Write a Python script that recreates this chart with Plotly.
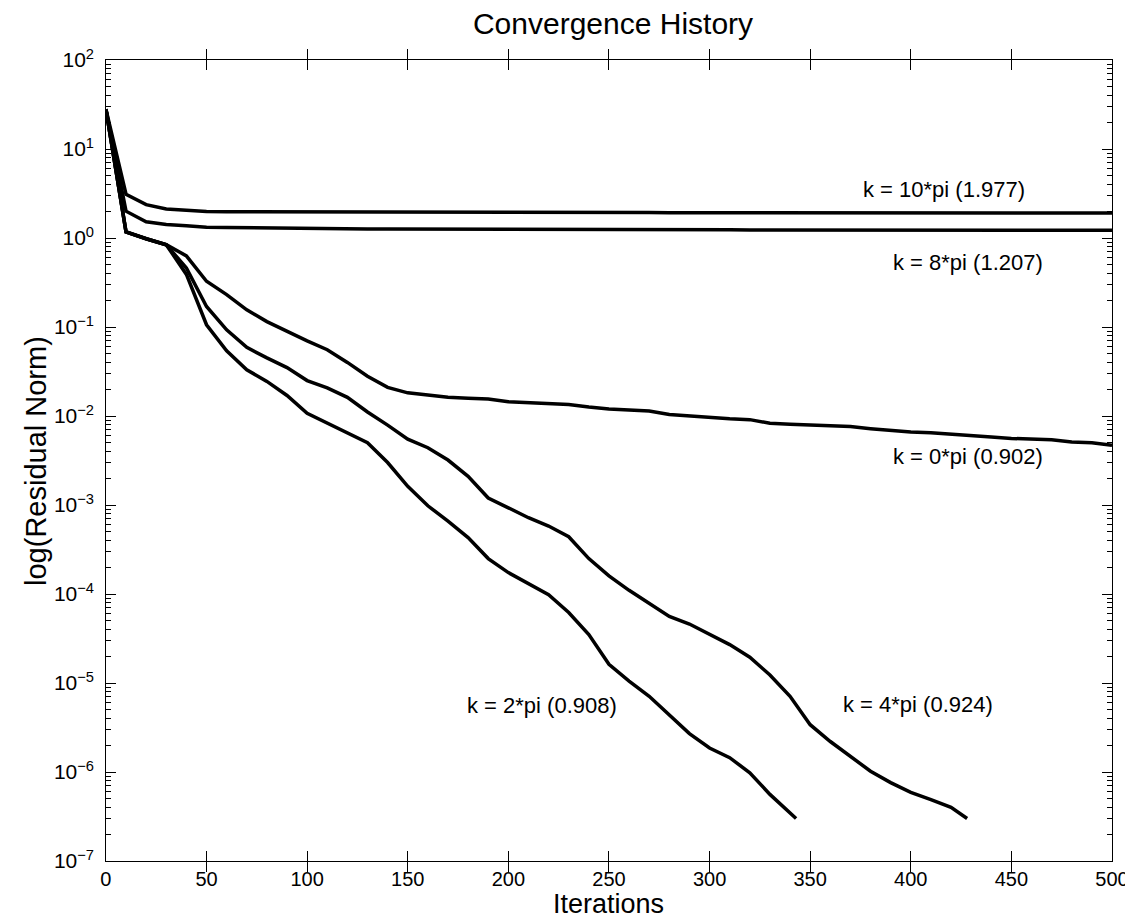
import plotly.graph_objects as go

# ---------------- data ----------------
iters_full = list(range(0, 501, 10))

res_10pi = [28, 3.1, 2.37, 2.12, 2.05, 1.98, 1.97, 1.97, 1.96, 1.96, 1.95,
            1.95, 1.95, 1.95, 1.94, 1.94, 1.94, 1.94, 1.94, 1.94, 1.93,
            1.93, 1.93, 1.93, 1.93, 1.93, 1.93, 1.93, 1.92, 1.92, 1.92,
            1.92, 1.92, 1.92, 1.92, 1.92, 1.92, 1.92, 1.91, 1.91, 1.91,
            1.91, 1.91, 1.91, 1.91, 1.91, 1.91, 1.91, 1.91, 1.91, 1.91]

res_8pi = [28, 2.0, 1.52, 1.42, 1.37, 1.32, 1.31, 1.30, 1.29, 1.28, 1.27,
           1.27, 1.27, 1.26, 1.26, 1.26, 1.26, 1.26, 1.25, 1.25, 1.25,
           1.25, 1.25, 1.25, 1.24, 1.24, 1.24, 1.24, 1.24, 1.24, 1.24,
           1.24, 1.23, 1.23, 1.23, 1.23, 1.23, 1.23, 1.23, 1.23, 1.23,
           1.23, 1.23, 1.22, 1.22, 1.22, 1.22, 1.22, 1.22, 1.22, 1.22]

res_0pi = [28, 1.17, 0.98, 0.84, 0.63, 0.326, 0.231, 0.156, 0.115, 0.089, 0.070,
           0.0556, 0.040, 0.028, 0.021, 0.0182, 0.0170, 0.0162, 0.0158, 0.0155, 0.0145,
           0.0141, 0.0140, 0.0135, 0.0126, 0.0120, 0.0117, 0.0114, 0.0104, 0.0100, 0.0096,
           0.0093, 0.0091, 0.0083, 0.0081, 0.0079, 0.0078, 0.0076, 0.0072, 0.0069, 0.0066,
           0.0065, 0.0063, 0.0060, 0.0058, 0.0056, 0.0055, 0.0054, 0.0051, 0.0050, 0.0047]

iters_2pi = [0, 10, 20, 30, 40, 50, 60, 70, 80, 90, 100, 110, 120, 130, 140, 150,
             160, 170, 180, 190, 200, 210, 220, 230, 240, 250, 260, 270, 280, 290,
             300, 310, 320, 330, 343]
res_2pi = [28, 1.17, 0.98, 0.84, 0.39, 0.106, 0.054, 0.033, 0.0245, 0.017, 0.0107,
           0.0083, 0.0066, 0.0050, 0.0030, 0.00162, 0.00098, 0.00066, 0.00043, 0.00025,
           0.000174, 0.000132, 0.000098, 0.000062, 0.000035, 0.0000162, 0.0000105,
           0.0000071, 0.0000044, 0.0000027, 0.00000186, 0.00000145, 0.00000098,
           0.00000056, 0.0000003]

iters_4pi = [0, 10, 20, 30, 40, 50, 60, 70, 80, 90, 100, 110, 120, 130, 140, 150,
             160, 170, 180, 190, 200, 210, 220, 230, 240, 250, 260, 270, 280, 290,
             300, 310, 320, 330, 340, 350, 360, 370, 380, 390, 400, 410, 420, 428]
res_4pi = [28, 1.17, 0.98, 0.84, 0.46, 0.17, 0.093, 0.059, 0.045, 0.035, 0.025,
           0.0207, 0.0162, 0.0111, 0.0079, 0.0055, 0.0044, 0.0032, 0.0021, 0.0012,
           0.00093, 0.00072, 0.00058, 0.00044, 0.00025, 0.00016, 0.00011, 0.000078,
           0.000056, 0.000046, 0.000035, 0.000027, 0.0000195, 0.0000123, 0.0000071,
           0.0000034, 0.0000022, 0.0000015, 0.00000102, 0.00000076, 0.00000059,
           0.00000049, 0.0000004, 0.0000003]

labels = ["k = 10*pi (1.977)", "k = 8*pi (1.207)", "k = 0*pi (0.902)",
          "k = 2*pi (0.908)", "k = 4*pi (0.924)"]
label_x = [416.7, 428.5, 428.5, 216.5, 403.7]
label_y = [0.54, -0.27, -2.45, -5.25, -5.24]   # log10 positions

x_ticks = [0, 50, 100, 150, 200, 250, 300, 350, 400, 450, 500]
y_tickvals = [1e2, 1e1, 1e0, 1e-1, 1e-2, 1e-3, 1e-4, 1e-5, 1e-6, 1e-7]
y_ticktext = ["10<sup>2</sup>", "10<sup>1</sup>", "10<sup>0</sup>",
              "10<sup>\u22121</sup>", "10<sup>\u22122</sup>", "10<sup>\u22123</sup>",
              "10<sup>\u22124</sup>", "10<sup>\u22125</sup>", "10<sup>\u22126</sup>",
              "10<sup>\u22127</sup>"]

# ---------------- figure ----------------
FONT = "Arial"
W, H = 1133, 915
AX_LEFT = 98          # pixel position of the y axis line
LBL_LEFT = 86         # pixel position where y tick labels end
L, R, T, B = LBL_LEFT, 21, 52, 62
plot_w, plot_h = W - L - R, H - T - B
x_dom0 = (AX_LEFT - L) / plot_w

fig = go.Figure()
series = [(iters_full, res_10pi), (iters_full, res_8pi), (iters_full, res_0pi),
          (iters_2pi, res_2pi), (iters_4pi, res_4pi)]
for (xs, ys), name in zip(series, labels):
    fig.add_trace(go.Scatter(x=xs, y=ys, mode="lines", name=name,
                             line=dict(color="black", width=3.5), showlegend=False))
# empty trace that carries the label-only y axis
fig.add_trace(go.Scatter(x=[], y=[], yaxis="y2", showlegend=False, hoverinfo="skip"))

for t, lx, ly in zip(labels, label_x, label_y):
    fig.add_annotation(x=lx, y=ly, text=t, showarrow=False,
                       font=dict(family=FONT, size=22, color="black"),
                       xanchor="center", yanchor="middle")

# axis titles placed as paper annotations to match the reference placement
fig.add_annotation(x=x_dom0 + (1 - x_dom0) * 0.5, y=-(896 - (H - B)) / plot_h,
                   xref="paper", yref="paper",
                   text="Iterations", showarrow=False,
                   font=dict(family=FONT, size=27, color="black"),
                   xanchor="center", yanchor="middle")
fig.add_annotation(x=-(L - 27) / plot_w, y=0.5, xref="paper", yref="paper",
                   text="log(Residual Norm)", showarrow=False, textangle=-90,
                   font=dict(family=FONT, size=29, color="black"),
                   xanchor="center", yanchor="middle")

fig.update_layout(
    width=W, height=H,
    paper_bgcolor="white", plot_bgcolor="white",
    margin=dict(l=L, r=R, t=T, b=B),
    font=dict(family=FONT, color="black"),
    title=dict(text="Convergence History", x=(AX_LEFT + W - R) / 2 / W, xanchor="center",
               y=1 - 15 / H, yanchor="middle",
               font=dict(family=FONT, size=30, color="black")),
    xaxis=dict(
        domain=[x_dom0, 1], range=[0, 500], tickvals=x_ticks, ticks="inside", ticklen=10,
        tickcolor="black", tickwidth=1, showline=True, linecolor="black", linewidth=1,
        mirror="allticks", showgrid=False, zeroline=False,
        tickfont=dict(family=FONT, size=20, color="black"),
    ),
    yaxis=dict(
        type="log", range=[-7, 2], tickvals=y_tickvals, showticklabels=False,
        ticks="inside", ticklen=10, tickcolor="black", tickwidth=1,
        minor=dict(ticks="inside", ticklen=5, tickcolor="black", dtick="D1", showgrid=False),
        showline=True, linecolor="black", linewidth=1,
        mirror="allticks", showgrid=False, zeroline=False,
    ),
    yaxis2=dict(
        type="log", range=[-7, 2], tickvals=y_tickvals, ticktext=y_ticktext,
        overlaying="y", anchor="free", position=0, side="left",
        ticks="", showline=False, showgrid=False, zeroline=False,
        tickfont=dict(family=FONT, size=21, color="black"),
    ),
)

fig.write_html("out.html")
